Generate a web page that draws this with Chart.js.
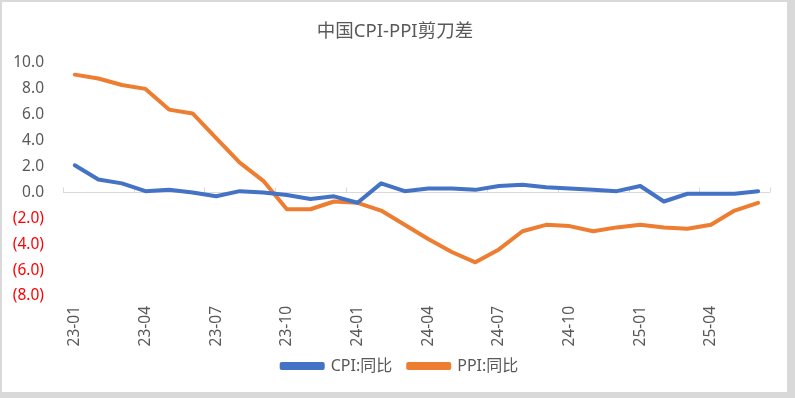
<!DOCTYPE html>
<html>
<head>
<meta charset="utf-8">
<script src="https://cdn.jsdelivr.net/npm/chart.js@4/dist/chart.umd.min.js"></script>
<style>
  html, body { margin: 0; padding: 0; background: #d9d9d9; width: 795px; height: 398px; overflow: hidden; }
  #box { position: absolute; left: 2px; top: 2px; width: 785px; height: 390px; background: #ffffff; }
  canvas { display: block; }
</style>
</head>
<body>
<div id="box"><canvas id="c" width="785" height="390"></canvas></div>
<script>
const categories = [
  '23-01','23-02','23-03','23-04','23-05','23-06','23-07','23-08','23-09','23-10','23-11','23-12',
  '24-01','24-02','24-03','24-04','24-05','24-06','24-07','24-08','24-09','24-10','24-11','24-12',
  '25-01','25-02','25-03','25-04','25-05','25-06'
];
const cpiValues = [
  2.1, 1.0, 0.7, 0.1, 0.2, 0.0, -0.3, 0.1, 0.0, -0.2, -0.5, -0.3,
  -0.8, 0.7, 0.1, 0.3, 0.3, 0.2, 0.5, 0.6, 0.4, 0.3, 0.2, 0.1,
  0.5, -0.7, -0.1, -0.1, -0.1, 0.1
];
const ppiValues = [
  9.1, 8.8, 8.3, 8.0, 6.4, 6.1, 4.2, 2.3, 0.9, -1.3, -1.3, -0.7,
  -0.8, -1.4, -2.5, -3.6, -4.6, -5.4, -4.4, -3.0, -2.5, -2.6, -3.0, -2.7,
  -2.5, -2.7, -2.8, -2.5, -1.4, -0.8
];
const seriesNames = ['CPI:同比', 'PPI:同比'];
const titleText = '中国CPI-PPI剪刀差';
const yMin = -8, yMax = 10, yStep = 2;
const labelEvery = 3;

const TEXT = '#595959';
const RED = '#FF0000';
const AXIS = '#d9d9d9';
const FONT = '"Noto Sans", "Noto Sans CJK SC", sans-serif';

const zeroTicks = {
  id: 'zeroTicks',
  beforeDatasetsDraw(chart) {
    const x = chart.scales.x, y = chart.scales.y;
    const ctx = chart.ctx;
    const y0 = y.getPixelForValue(0);
    const half = (x.getPixelForValue(1) - x.getPixelForValue(0)) / 2;
    ctx.save();
    ctx.strokeStyle = AXIS;
    ctx.lineWidth = 1;
    ctx.beginPath();
    for (let i = 0; i <= categories.length; i += labelEvery) {
      const px = Math.round(x.getPixelForValue(i) - half) + 0.5;
      ctx.moveTo(px, y0);
      ctx.lineTo(px, y0 - 5);
    }
    ctx.stroke();
    ctx.restore();
  }
};

// nudge the title and legend boxes to sit where the reference has them
const boxNudge = {
  id: 'boxNudge',
  afterLayout(chart) {
    const lg = chart.legend;
    if (lg) { lg.left += 28; lg.top -= 6; lg.bottom -= 6; }
    const tb = chart.titleBlock;
    if (tb) { tb.left += 18; }
  }
};

new Chart(document.getElementById('c'), {
  type: 'line',
  data: {
    labels: categories,
    datasets: [
      { label: seriesNames[0], data: cpiValues, borderColor: '#4472C4', backgroundColor: '#4472C4',
        borderWidth: 4, pointRadius: 0, tension: 0, borderJoinStyle: 'round', borderCapStyle: 'round' },
      { label: seriesNames[1], data: ppiValues, borderColor: '#ED7D31', backgroundColor: '#ED7D31',
        borderWidth: 4, pointRadius: 0, tension: 0, borderJoinStyle: 'round', borderCapStyle: 'round' }
    ]
  },
  options: {
    responsive: false,
    animation: false,
    maintainAspectRatio: false,
    layout: { padding: { left: 0, right: 17, top: 0, bottom: 2 } },
    plugins: {
      title: {
        display: true, text: titleText, color: TEXT,
        font: { family: FONT, size: 18.5, weight: 'normal' },
        padding: { top: 18.3, bottom: 20.5 }
      },
      legend: {
        position: 'bottom',
        labels: {
          color: TEXT, font: { family: FONT, size: 16 },
          boxWidth: 41, boxHeight: 4, padding: 16
        }
      },
      tooltip: { enabled: false }
    },
    scales: {
      x: {
        offset: true,
        grid: { display: false, drawTicks: false },
        border: { display: false },
        ticks: {
          autoSkip: false, minRotation: 90, maxRotation: 90, padding: 10,
          color: TEXT, font: { family: FONT, size: 15.5 },
          callback: function(v, i) { return i % labelEvery === 0 ? categories[i] : ''; }
        },
        afterFit(scale) { scale.height = 52; }
      },
      y: {
        min: yMin, max: yMax,
        grid: {
          drawTicks: false,
          color: (ctx) => (ctx.tick && ctx.tick.value === 0) ? AXIS : 'rgba(0,0,0,0)',
          lineWidth: 1
        },
        border: { display: false },
        ticks: {
          stepSize: yStep, padding: 19,
          font: { family: FONT, size: 15.5 },
          color: (ctx) => (ctx.tick && ctx.tick.value < 0) ? RED : TEXT,
          callback: (v) => v < 0 ? '(' + Math.abs(v).toFixed(1) + ')' : v.toFixed(1)
        },
        afterFit(scale) { scale.width = 61; }
      }
    }
  },
  plugins: [zeroTicks, boxNudge]
});
</script>
</body>
</html>
